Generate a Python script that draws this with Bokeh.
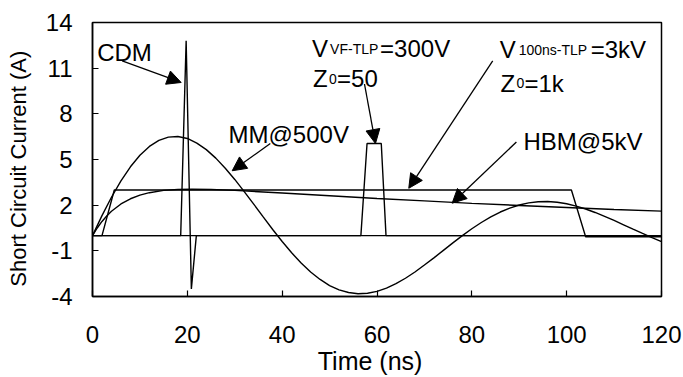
from bokeh.plotting import figure
from bokeh.models import Range1d, Label, Arrow, NormalHead, FixedTicker
from bokeh.embed import file_html
from bokeh.resources import INLINE

# ---------------- data ----------------
x_ticks = [0, 20, 40, 60, 80, 100, 120]
y_ticks = [-4, -1, 2, 5, 8, 11, 14]

cdm_t = [0, 18.6, 19.75, 20.85, 21.9, 120]
cdm_i = [0, 0, 12.8, -3.5, 0, 0]

vftlp_t = [0, 56.6, 57.9, 60.9, 61.9, 120]
vftlp_i = [0, 0, 6.05, 6.05, 0, 0]

tlp_t = [0, 2.0, 4.6, 101.0, 104.0, 120]
tlp_i = [0, 0, 3.0, 3.0, -0.07, -0.07]

hbm_t = [0, 1, 2, 3, 4, 6, 8, 10, 12, 15, 18, 21, 25, 30, 40, 50, 60, 70, 80, 90, 100, 110, 120]
hbm_i = [0, 0.50, 0.93, 1.29, 1.60, 2.08, 2.42, 2.66, 2.82, 2.97, 3.03, 3.05, 3.03, 2.97,
         2.80, 2.62, 2.44, 2.28, 2.12, 1.98, 1.85, 1.72, 1.61]

mm_t = [0, 2, 4, 6, 8, 10, 12, 14, 16, 18, 20, 22, 24, 26, 28, 30, 32, 34, 36, 38, 40,
        42, 44, 46, 48, 50, 52, 54, 56, 58, 60, 62, 64, 66, 68, 70, 72, 74, 76, 78, 80,
        82, 84, 86, 88, 90, 92, 94, 96, 98, 100, 102, 104, 106, 108, 110, 112, 114, 116, 118, 120]
mm_i = [0, 1.31, 2.52, 3.59, 4.52, 5.28, 5.86, 6.26, 6.47, 6.51, 6.38, 6.08, 5.65, 5.09,
        4.43, 3.69, 2.89, 2.07, 1.23, 0.40, -0.39, -1.13, -1.80, -2.39, -2.88, -3.28,
        -3.56, -3.74, -3.82, -3.79, -3.66, -3.45, -3.16, -2.80, -2.39, -1.93, -1.46,
        -0.97, -0.48, 0.0, 0.45, 0.86, 1.23, 1.55, 1.81, 2.01, 2.15, 2.22, 2.24, 2.19,
        2.09, 1.94, 1.75, 1.52, 1.27, 1.00, 0.71, 0.42, 0.14, -0.13, -0.39]

# ---------------- figure ----------------
FONT = "Liberation Sans"
p = figure(width=683, height=377, x_range=Range1d(0, 120), y_range=Range1d(-4, 14),
           output_backend="svg", toolbar_location=None,
           min_border_left=92, min_border_right=22, min_border_top=22, min_border_bottom=80)
p.grid.visible = False
p.outline_line_color = "black"
p.outline_line_width = 1.5
p.outline_line_alpha = 1.0
p.background_fill_color = "white"
p.border_fill_color = "white"

for ax, ticks, standoff in ((p.xaxis[0], x_ticks, 29), (p.yaxis[0], y_ticks, 20)):
    ax.ticker = FixedTicker(ticks=ticks)
    ax.major_label_overrides = {t: str(t) for t in ticks}
    ax.minor_tick_line_color = None
    ax.major_tick_in = 6
    ax.major_tick_out = 0
    ax.major_tick_line_color = "black"
    ax.major_tick_line_width = 1.2
    ax.axis_line_color = "black"
    ax.axis_line_width = 1.5
    ax.major_label_text_font = FONT
    ax.major_label_text_font_size = "24px"
    ax.major_label_text_color = "black"
    ax.major_label_standoff = standoff
    ax.axis_label_text_font = FONT
    ax.axis_label_text_font_style = "normal"
    ax.axis_label_text_color = "black"

p.xaxis[0].axis_label = "Time (ns)\u00a0\u00a0"
p.xaxis[0].axis_label_text_font_size = "25px"
p.xaxis[0].axis_label_standoff = 1
p.yaxis[0].axis_label = "Short Circuit Current (A)\u00a0\u00a0\u00a0"
p.yaxis[0].axis_label_text_font_size = "22px"
p.yaxis[0].axis_label_standoff = 12

LW = 1.4
for t, i in ((cdm_t, cdm_i), (vftlp_t, vftlp_i), (tlp_t, tlp_i), (hbm_t, hbm_i), (mm_t, mm_i)):
    p.line(t, i, line_color="black", line_width=LW)

# ---------------- arrows ----------------
arrows = [
    (6.26, 11.48, 18.7, 10.06),   # CDM
    (37.5, 6.05, 29.46, 4.26),    # MM
    (57.36, 9.96, 59.68, 6.05),   # VF-TLP
    (84.4, 11.48, 66.7, 3.11),    # 100ns-TLP
    (89.4, 6.15, 75.85, 2.13),    # HBM
]
for xs, ys, xe, ye in arrows:
    p.add_layout(Arrow(end=NormalHead(size=14, fill_color="black", line_color="black", line_width=1),
                       x_start=xs, y_start=ys, x_end=xe, y_end=ye,
                       line_color="black", line_width=1.3))

# ---------------- texts ----------------
def lab(text, x, y, size="24px", xoff=0):
    p.add_layout(Label(x=x, y=y, text=text, x_offset=xoff, text_font=FONT,
                       text_font_size=size, text_color="black", text_align="left",
                       text_baseline="alphabetic"))

lab("CDM", 0.99, 12.06)
lab("MM@500V", 28.68, 6.61)
lab("HBM@5kV", 90.89, 6.18)

# V_VF-TLP=300V / Z0=50
lab("V", 46.31, 12.29)
lab("VF-TLP", 46.31, 12.29, size="14px", xoff=18)
lab("=300V", 46.31, 12.29, xoff=68)
lab("Z", 46.52, 10.32)
lab("0", 46.52, 10.32, size="14px", xoff=16)
lab("=50", 46.52, 10.32, xoff=24)

# V_100ns-TLP=3kV / Z0=1k
lab("V", 85.88, 12.22)
lab("100ns-TLP", 85.88, 12.22, size="14px", xoff=19)
lab("=3kV", 85.88, 12.22, xoff=91)
lab("Z", 86.03, 10.0)
lab("0", 86.03, 10.0, size="14px", xoff=16)
lab("=1k", 86.03, 10.0, xoff=24)

open("out.html", "w").write(file_html(p, INLINE))
